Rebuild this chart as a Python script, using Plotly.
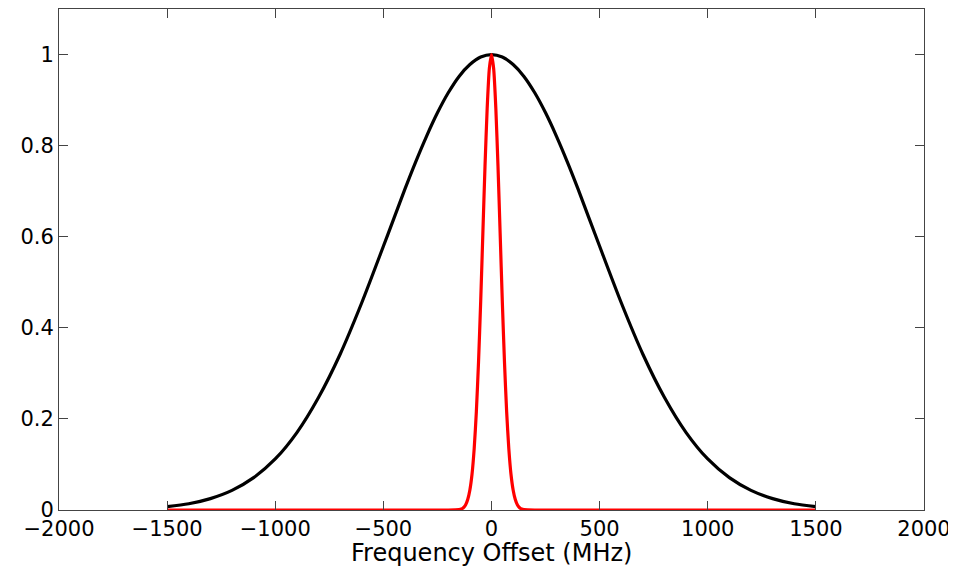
import plotly.graph_objects as go

# Black (wide) spectrum, symmetric about 0
wide_x = [-1500, -1400, -1300, -1200, -1100, -1000, -900, -800, -700, -600, -500, -450, -400, -350, -300, -250,
          -200, -150, -100, -50, 0, 50, 100, 150, 200, 250, 300, 350, 400, 450, 500,
          600, 700, 800, 900, 1000, 1100, 1200, 1300, 1400, 1500]
wide_y = [0.0073, 0.0137, 0.025, 0.043, 0.071, 0.112, 0.170, 0.247, 0.342, 0.455, 0.579, 0.642, 0.705, 0.765, 0.821, 0.872,
          0.916, 0.952, 0.978, 0.9945, 1.0, 0.9945, 0.978, 0.952, 0.916, 0.872, 0.821, 0.765, 0.705, 0.642, 0.579,
          0.455, 0.342, 0.247, 0.170, 0.112, 0.071, 0.043, 0.025, 0.0137, 0.0073]

# Red (narrow) spectrum
narrow_x = [-1500, -200, -150, -140, -130, -120, -110, -100, -90, -80, -70, -60, -50, -40, -30, -20, -10,
            0, 10, 20, 30, 40, 50, 60, 70, 80, 90, 100, 110, 120, 130, 140, 150, 200, 1500]
narrow_y = [0.0, 0.0, 0.001, 0.002, 0.005, 0.011, 0.023, 0.044, 0.079, 0.135, 0.216, 0.325, 0.458, 0.607, 0.755, 0.882, 0.969,
            1.0, 0.969, 0.882, 0.755, 0.607, 0.458, 0.325, 0.216, 0.135, 0.079, 0.044, 0.023, 0.011, 0.005, 0.002, 0.001, 0.0, 0.0]

x_ticks = [-2000, -1500, -1000, -500, 0, 500, 1000, 1500, 2000]
y_ticks = [0, 0.2, 0.4, 0.6, 0.8, 1]
x_title = "Frequency Offset (MHz)"

fig = go.Figure()
fig.add_trace(go.Scatter(x=wide_x, y=wide_y, mode="lines", line=dict(color="black", width=3.2, shape="spline", smoothing=0.8),
                         showlegend=False))
fig.add_trace(go.Scatter(x=narrow_x, y=narrow_y, mode="lines", line=dict(color="red", width=3.2, shape="spline", smoothing=0.6),
                         showlegend=False))

axis_common = dict(showgrid=False, zeroline=False, showline=True, mirror="allticks", linecolor="#444",
                   linewidth=1, ticks="inside", ticklen=9, tickcolor="#444", tickwidth=1, automargin=False,
                   tickfont=dict(family="DejaVu Sans", size=21, color="black"))

# page body adds an 8px offset, so the figure is 8px smaller and shifted accordingly
fig.update_layout(
    width=948, height=558,
    margin=dict(l=51, r=32, t=1, b=56),
    plot_bgcolor="white", paper_bgcolor="white",
    xaxis=dict(range=[-2000, 2000], tickvals=x_ticks, **axis_common),
    yaxis=dict(range=[0, 1.1], tickvals=y_ticks, ticktext=["0", "0.2", "0.4", "0.6", "0.8", "1"], **axis_common),
    annotations=[dict(text=x_title, xref="paper", yref="paper", x=0.5, y=-0.086, xanchor="center", yanchor="middle",
                      showarrow=False, font=dict(family="DejaVu Sans", size=24, color="black"))],
)

fig.write_html("out.html")
